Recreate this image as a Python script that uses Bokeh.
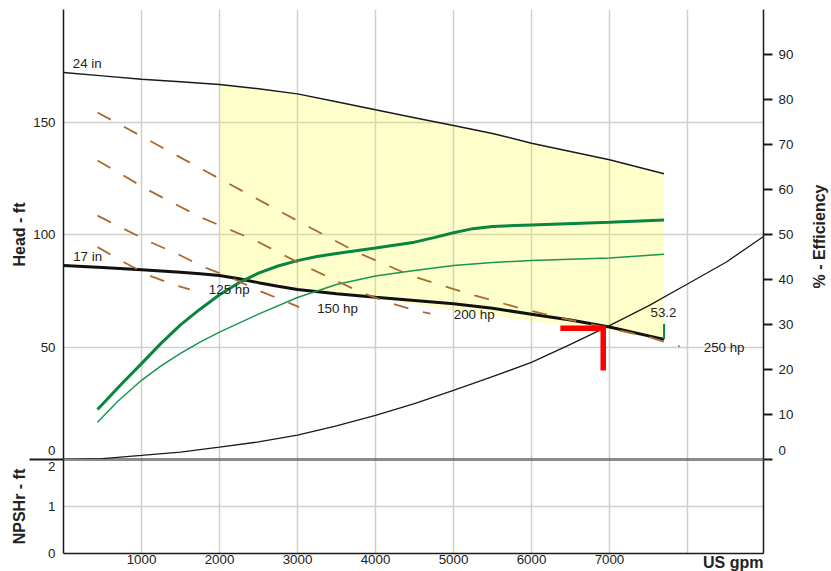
import math
from bokeh.plotting import figure
from bokeh.layouts import column, row
from bokeh.models import Range1d, LinearAxis, FixedTicker, Label, Span, Grid
from bokeh.embed import file_html
from bokeh.resources import INLINE

# ---------------- data ----------------
# impeller curves: head (ft) vs flow (US gpm)
flow_24in = [0, 500, 1000, 1500, 2000, 2500, 3000, 3500, 4000, 4500, 5000, 5500, 6000, 6500, 7000, 7700]
head_24in = [172.0, 170.5, 169.0, 167.9, 166.7, 164.8, 162.5, 159.0, 155.4, 151.9, 148.4, 144.9, 140.6, 136.9, 133.2, 127.0]

flow_17in = [0, 500, 1000, 1500, 1750, 2000, 2250, 2500, 2750, 3000, 3500, 4000, 4500, 5000, 5500, 6000, 6500, 7000, 7700]
head_17in = [86.2, 85.3, 84.3, 83.2, 82.6, 81.8, 80.3, 78.6, 77.0, 75.6, 73.7, 72.1, 70.7, 69.2, 67.2, 64.6, 62.0, 58.9, 53.4]

# lower edge of the allowed operating region
flow_region_low = [7700, 7000, 6000, 5000, 4000, 3000, 2000]
head_region_low = [53.2, 57.0, 61.4, 66.2, 71.6, 76.6, 81.8]
region_start_flow = 2000

# system curve
flow_system = [0, 500, 1000, 1500, 2000, 2500, 3000, 3500, 4000, 4500, 5000, 5500, 6000, 6500, 7000, 7500, 8000, 8500, 8970]
head_system = [0.0, 0.4, 1.8, 3.3, 5.5, 7.8, 10.8, 14.9, 19.6, 24.8, 30.7, 36.8, 43.2, 51.2, 59.5, 68.3, 78.0, 87.8, 99.0]

# efficiency curves (%)
flow_eff_24in = [436, 750, 1000, 1250, 1500, 1750, 2000, 2250, 2500, 2750, 3000, 3250, 3500, 4000, 4500, 4750, 5000, 5250, 5500, 6000, 7000, 7700]
eff_24in = [11.1, 16.9, 21.3, 25.8, 29.9, 33.4, 36.6, 39.3, 41.4, 43.0, 44.2, 45.1, 45.8, 47.0, 48.3, 49.3, 50.4, 51.3, 51.8, 52.1, 52.7, 53.2]

flow_eff_17in = [436, 700, 1000, 1250, 1500, 1750, 2000, 2500, 3000, 3500, 4000, 4500, 5000, 5500, 6000, 7000, 7700]
eff_17in = [8.3, 13.0, 17.6, 20.8, 23.6, 26.1, 28.3, 32.3, 36.0, 38.9, 40.8, 42.0, 43.1, 43.8, 44.2, 44.8, 45.6]

# power lines (hp)
power_labels = ["125 hp", "150 hp", "200 hp", "250 hp"]
flow_125hp = [436, 800, 1100, 1400, 1620]
head_125hp = [94.4, 87.2, 81.8, 77.8, 75.6]
flow_150hp = [436, 773, 1115, 1458, 1800, 2140, 2500, 2870, 3020]
head_150hp = [108.4, 102.5, 96.6, 91.4, 85.5, 81.0, 75.1, 69.9, 67.7]
flow_200hp = [436, 1094, 1756, 2462, 3124, 3808, 4150, 4513, 4705]
head_200hp = [132.9, 119.6, 107.7, 97.3, 85.5, 74.4, 69.9, 66.2, 64.8]
flow_250hp = [436, 1100, 1760, 2440, 3080, 3770, 4450, 5180, 5900, 6500, 7000, 7500, 7900]
head_250hp = [154.2, 141.8, 129.3, 116.6, 104.6, 92.0, 81.8, 73.8, 66.8, 62.0, 58.3, 54.5, 50.3]

# duty point
duty_flow = 6920
duty_head = 58.3

# axis ticks
flow_ticks = [1000, 2000, 3000, 4000, 5000, 6000, 7000, 8000]
head_ticks = [0, 50, 100, 150]
npsh_ticks = [0, 1, 2]
eff_ticks = [0, 10, 20, 30, 40, 50, 60, 70, 80, 90]

# ---------------- styling ----------------
FONT = "Liberation Sans"
TXT = "#222222"
AX = "#1a1a1a"
GRID = "#cfcfcf"
X_END = 8975
HEAD_TOP = 200
NPSH_TOP = 2
RIGHT_BORDER = 35
STRIP_W = 33
TOTAL_H = 571

xr = Range1d(0, X_END)

def style_axis(ax):
    ax.axis_line_color = AX
    ax.axis_line_width = 1.5
    ax.major_label_text_font = FONT
    ax.major_label_text_font_size = "10pt"
    ax.major_label_text_color = TXT
    ax.major_tick_out = 0
    ax.major_tick_in = 0
    ax.minor_tick_in = 0
    ax.minor_tick_out = 0
    ax.minor_tick_line_color = AX
    ax.minor_tick_line_width = 2
    ax.axis_label_text_font = FONT
    ax.axis_label_text_font_size = "12pt"
    ax.axis_label_text_font_style = "bold"
    ax.axis_label_text_color = TXT

# ================= head / efficiency panel =================
p = figure(frame_width=700, frame_height=450,
           min_border_left=63, min_border_right=RIGHT_BORDER, min_border_top=9, min_border_bottom=0,
           x_range=xr, y_range=Range1d(0, HEAD_TOP), x_axis_location=None,
           output_backend="svg", toolbar_location=None, title=None)
p.outline_line_color = None
p.extra_y_ranges = {"eff": Range1d(0, HEAD_TOP / 2)}

p.add_layout(Grid(dimension=0, ticker=FixedTicker(ticks=flow_ticks),
                  grid_line_color=GRID, grid_line_width=1.5))
p.ygrid.ticker = FixedTicker(ticks=head_ticks[1:])
p.ygrid.grid_line_color = GRID
p.ygrid.grid_line_width = 1.5

ya = p.yaxis[0]
ya.ticker = FixedTicker(ticks=[4] + head_ticks[1:], minor_ticks=[0])
ya.major_label_overrides = {4: str(head_ticks[0])}
style_axis(ya)
ya.minor_tick_out = 34
ya.major_label_standoff = -26
ya.axis_label = "Head - ft"
ya.axis_label_standoff = 2

ra = LinearAxis(y_range_name="eff",
                ticker=FixedTicker(ticks=[2] + eff_ticks[1:], minor_ticks=eff_ticks))
ra.major_label_overrides = {2: str(eff_ticks[0])}
style_axis(ra)
ra.minor_tick_out = 9
ra.major_label_standoff = 6
p.add_layout(ra, "right")

p.add_layout(Span(location=0, dimension="width", line_color=AX, line_width=2))

# allowed operating region
top_x = [f for f in flow_24in if f >= region_start_flow]
top_y = [h for f, h in zip(flow_24in, head_24in) if f >= region_start_flow]
p.patch(top_x + flow_region_low, top_y + head_region_low,
        fill_color="#ffff00", fill_alpha=0.2, line_color=None)

p.line(flow_system, head_system, line_color=AX, line_width=1.3)
p.line(flow_24in, head_24in, line_color=AX, line_width=1.5)
p.line(flow_17in, head_17in, line_color="#111111", line_width=3)

p.line(flow_eff_24in, eff_24in, y_range_name="eff", line_color="#0a8541", line_width=3)
p.line(flow_eff_17in, eff_17in, y_range_name="eff", line_color="#1a954f", line_width=1.5)

for fx, hy in ((flow_125hp, head_125hp), (flow_150hp, head_150hp),
               (flow_200hp, head_200hp), (flow_250hp, head_250hp)):
    p.line(fx, hy, line_color="#a86a32", line_width=1.8, line_dash="15 15")

p.line([flow_17in[-1], flow_17in[-1]], [head_17in[-1], head_17in[-1] + 6.8],
       line_color="#0a8541", line_width=2)

p.line([duty_flow - 550, duty_flow, duty_flow], [duty_head, duty_head, duty_head - 18.7],
       line_color="#ff0000", line_width=5.5, line_join="miter")

def lab(fig, x, y, t, **kw):
    d = dict(x=x, y=y, text=t, text_font=FONT, text_font_size="10pt",
             text_color=TXT, text_baseline="alphabetic", text_align="left")
    d.update(kw)
    fig.add_layout(Label(**d))

lab(p, 119, 175.8, "24 in")
lab(p, 124, 90.3, "17 in")
lab(p, 1863, 75.6, power_labels[0])
lab(p, 3252, 67.1, power_labels[1])
lab(p, 5004, 64.5, power_labels[2])
lab(p, 8209, 49.7, power_labels[3])
lab(p, 7526, 65.2, f"{max(eff_24in):.1f}")

# ================= NPSH panel =================
q = figure(frame_width=700, frame_height=94,
           min_border_left=63, min_border_right=RIGHT_BORDER, min_border_top=0, min_border_bottom=18,
           x_range=xr, y_range=Range1d(0, NPSH_TOP),
           output_backend="svg", toolbar_location=None, title=None)
q.outline_line_color = None
q.xgrid.ticker = FixedTicker(ticks=flow_ticks)
q.ygrid.ticker = FixedTicker(ticks=[npsh_ticks[1]])
for g in (q.xgrid, q.ygrid):
    g.grid_line_color = GRID
    g.grid_line_width = 1.5

qy = q.yaxis[0]
qy.ticker = FixedTicker(ticks=[0, 1, 1.85], minor_ticks=[NPSH_TOP])
qy.major_label_overrides = {1.85: str(npsh_ticks[2])}
style_axis(qy)
qy.minor_tick_out = 34
qy.major_label_standoff = -26
qy.axis_label = "NPSHr - ft"
qy.axis_label_standoff = 17

qx = q.xaxis[0]
qx.ticker = FixedTicker(ticks=flow_ticks)
qx.major_label_overrides = {flow_ticks[-1]: ""}
style_axis(qx)
qx.major_label_standoff = 1

ux = LinearAxis(ticker=FixedTicker(ticks=[]))
style_axis(ux)
ux.axis_line_color = None
ux.major_label_standoff = 0
ux.axis_label = "US gpm"
ux.axis_label_standoff = -4
ux.axis_label_orientation = 1e-9
ux.axis_label_align = "end"
q.add_layout(ux, "below")

qr = LinearAxis(ticker=FixedTicker(ticks=[], minor_ticks=[NPSH_TOP]))
style_axis(qr)
qr.minor_tick_out = 9
q.add_layout(qr, "right")

q.add_layout(Span(location=NPSH_TOP, dimension="width", line_color=AX, line_width=2))

# ================= right title strip =================
s = figure(frame_width=STRIP_W, frame_height=TOTAL_H, min_border=0,
           x_range=Range1d(0, STRIP_W), y_range=Range1d(0, TOTAL_H),
           x_axis_location=None, y_axis_location=None,
           output_backend="svg", toolbar_location=None, title=None)
s.outline_line_color = None
s.grid.visible = False
lab(s, 21, 335, "% - Efficiency", angle=math.pi / 2, text_align="center", text_baseline="middle",
    text_font_style="bold", text_font_size="12pt")

layout = row(column(p, q, spacing=0), s, spacing=0)
open("out.html", "w").write(file_html(layout, INLINE))
